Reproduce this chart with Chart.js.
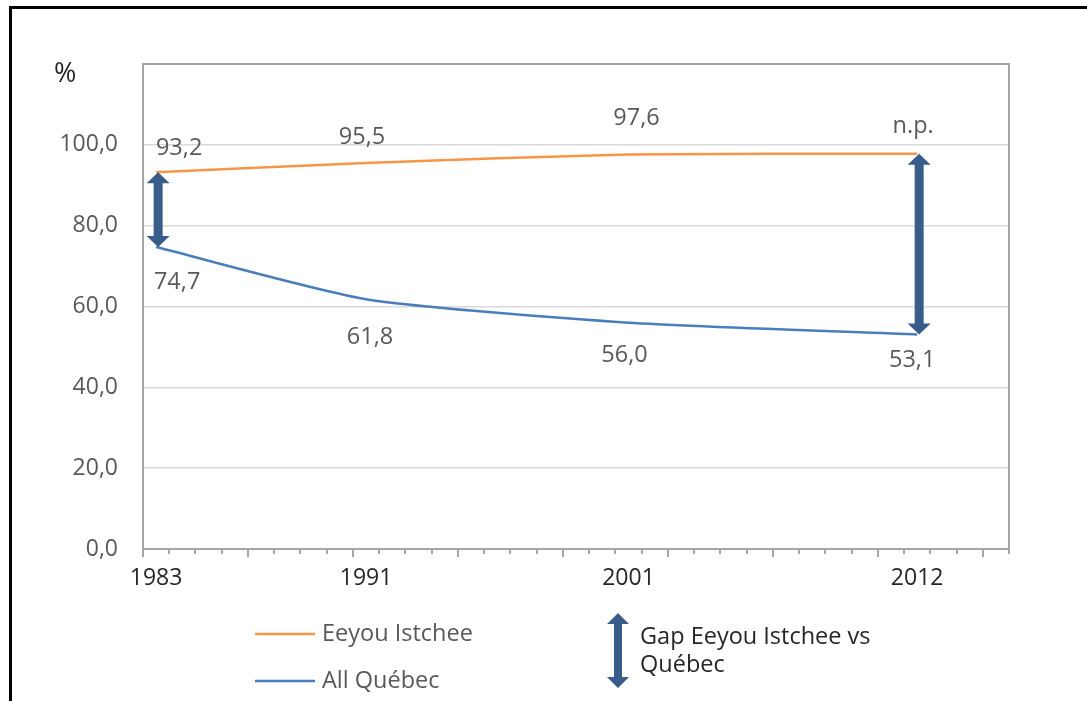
<!DOCTYPE html>
<html>
<head>
<meta charset="utf-8">
<script src="https://cdn.jsdelivr.net/npm/chart.js@4.4.1/dist/chart.umd.min.js"></script>
<style>
  html, body { margin: 0; padding: 0; background: #ffffff; }
  #wrap { position: relative; width: 1087px; height: 701px; }
</style>
</head>
<body>
<div id="wrap"><canvas id="c" width="1087" height="701"></canvas></div>
<script>
// ---- data ----
const years = [1983, 1991, 2001, 2012];
const xTickLabels = ['1983', '1991', '2001', '2012'];
const eeyouIstchee = [93.2, 95.5, 97.6, 97.8];
const eeyouNotes = [null, null, null, 'n.p.'];
const allQuebec = [74.7, 61.8, 56.0, 53.1];
const gapYearIdx = [0, 3];
const seriesNames = ['Eeyou Istchee', 'All Québec'];
const gapLegend = ['Gap Eeyou Istchee vs', 'Québec'];
const yTickValues = [0, 20, 40, 60, 80, 100, 120];

// ---- styles ----
const FONT = "'Open Sans', 'DejaVu Sans', sans-serif";
const ORANGE = '#F79646';
const BLUE = '#4A7EBB';
const ARROW = '#385D8A';
const GRID = '#d9d9d9';
const AXIS = '#a6a6a6';
const LABEL = '#595959';

const fmt = v => v.toFixed(1).replace('.', ',');
const xPos = y => y + 0.5; // points sit at mid-year on the date axis

function drawDoubleArrow(ctx, x, yTop, yBot, shaftW, headW, headH) {
  ctx.save();
  ctx.fillStyle = ARROW;
  ctx.beginPath();
  ctx.moveTo(x, yTop);
  ctx.lineTo(x + headW / 2, yTop + headH);
  ctx.lineTo(x + shaftW / 2, yTop + headH);
  ctx.lineTo(x + shaftW / 2, yBot - headH);
  ctx.lineTo(x + headW / 2, yBot - headH);
  ctx.lineTo(x, yBot);
  ctx.lineTo(x - headW / 2, yBot - headH);
  ctx.lineTo(x - shaftW / 2, yBot - headH);
  ctx.lineTo(x - shaftW / 2, yTop + headH);
  ctx.lineTo(x - headW / 2, yTop + headH);
  ctx.closePath();
  ctx.fill();
  ctx.restore();
}

const labelOffsets = [
  [[23, -24], [-4, -26], [8, -36], [-4, -27]],
  [[21, 35], [4, 38], [-4, 33], [-5, 26]]
];

const decorPlugin = {
  id: 'decor',
  beforeDraw(chart) {
    const ctx = chart.ctx;
    ctx.save();
    ctx.fillStyle = '#000';
    ctx.fillRect(9, 6, 1078, 3);
    ctx.fillRect(9, 6, 3, 695);
    ctx.restore();
  },
  beforeDatasetsDraw(chart) {
    const ctx = chart.ctx;
    const a = chart.chartArea;
    const xs = chart.scales.x;
    ctx.save();
    ctx.strokeStyle = AXIS;
    ctx.lineWidth = 2;
    ctx.strokeRect(a.left, a.top, a.right - a.left, a.bottom - a.top);
    // x tick marks, one per year, longer every 4 years
    for (let yr = xs.min; yr <= xs.max; yr++) {
      const px = Math.round(xs.getPixelForValue(yr));
      const len = ((yr - xs.min) % 4 === 0) ? 8 : 5;
      ctx.beginPath();
      ctx.moveTo(px, a.bottom);
      ctx.lineTo(px, a.bottom + len);
      ctx.stroke();
    }
    ctx.restore();
  },
  afterDatasetsDraw(chart) {
    const ctx = chart.ctx;
    const a = chart.chartArea;
    const xs = chart.scales.x, ys = chart.scales.y;
    // gap arrows
    gapYearIdx.forEach(i => {
      const px = xs.getPixelForValue(xPos(years[i])) + 2;
      drawDoubleArrow(ctx, px, ys.getPixelForValue(eeyouIstchee[i]), ys.getPixelForValue(allQuebec[i]), 9, 23, 11);
    });
    // data labels
    ctx.save();
    ctx.font = '23.5px ' + FONT;
    ctx.fillStyle = LABEL;
    ctx.textAlign = 'center';
    ctx.textBaseline = 'middle';
    chart.data.datasets.forEach((ds, di) => {
      const meta = chart.getDatasetMeta(di);
      meta.data.forEach((pt, i) => {
        const off = labelOffsets[di][i];
        let txt = fmt(di === 0 ? eeyouIstchee[i] : allQuebec[i]);
        if (di === 0 && eeyouNotes[i]) txt = eeyouNotes[i];
        ctx.fillText(txt, pt.x + off[0], pt.y + off[1]);
      });
    });
    // "%" unit label
    ctx.font = '27px ' + FONT;
    ctx.fillStyle = '#262626';
    ctx.textAlign = 'left';
    ctx.fillText('%', a.left - 89, a.top + 10);
    ctx.restore();
  },
  afterDraw(chart) {
    const ctx = chart.ctx;
    ctx.save();
    ctx.font = '23.5px ' + FONT;
    ctx.textBaseline = 'middle';
    ctx.textAlign = 'left';
    // series legend
    const rows = [[ORANGE, 634], [BLUE, 681]];
    rows.forEach((r, i) => {
      ctx.strokeStyle = r[0];
      ctx.lineWidth = 2.5;
      ctx.beginPath();
      ctx.moveTo(255, r[1]);
      ctx.lineTo(315, r[1]);
      ctx.stroke();
      ctx.fillStyle = LABEL;
      ctx.fillText(seriesNames[i], 322, r[1]);
    });
    // gap legend
    drawDoubleArrow(ctx, 618, 613, 688, 8, 22, 11);
    ctx.fillStyle = '#262626';
    ctx.fillText(gapLegend[0], 640, 637);
    ctx.fillText(gapLegend[1], 640, 665);
    ctx.restore();
  }
};

new Chart(document.getElementById('c'), {
  type: 'line',
  data: {
    datasets: [
      {
        label: seriesNames[0],
        data: years.map((y, i) => ({ x: xPos(y), y: eeyouIstchee[i] })),
        borderColor: ORANGE,
        borderWidth: 2.5,
        pointRadius: 0,
        tension: 0.2
      },
      {
        label: seriesNames[1],
        data: years.map((y, i) => ({ x: xPos(y), y: allQuebec[i] })),
        borderColor: BLUE,
        borderWidth: 2.5,
        pointRadius: 0,
        tension: 0.2
      }
    ]
  },
  options: {
    responsive: false,
    animation: false,
    devicePixelRatio: 1,
    layout: { padding: { left: 0, top: 64, right: 78, bottom: 0 } },
    plugins: {
      legend: { display: false },
      tooltip: { enabled: false }
    },
    scales: {
      x: {
        type: 'linear',
        min: 1983,
        max: 2016,
        afterBuildTicks: s => { s.ticks = years.map(y => ({ value: xPos(y) })); },
        afterFit: s => { s.height = 152; },
        grid: { display: false },
        border: { display: false },
        ticks: {
          autoSkip: false,
          maxRotation: 0,
          padding: 8,
          color: '#262626',
          font: { family: FONT, size: 23 },
          callback: (v, i) => xTickLabels[i]
        }
      },
      y: {
        min: 0,
        max: 120,
        afterBuildTicks: s => { s.ticks = yTickValues.map(v => ({ value: v })); },
        afterFit: s => { s.width = 143; },
        border: { display: false },
        grid: {
          drawTicks: false,
          lineWidth: 1.5,
          color: c => (c.tick && (c.tick.value === 0 || c.tick.value === 120)) ? 'rgba(0,0,0,0)' : GRID
        },
        ticks: {
          padding: 25,
          color: LABEL,
          font: { family: FONT, size: 23 },
          callback: v => v === 120 ? '' : fmt(v)
        }
      }
    }
  },
  plugins: [decorPlugin]
});
</script>
</body>
</html>
